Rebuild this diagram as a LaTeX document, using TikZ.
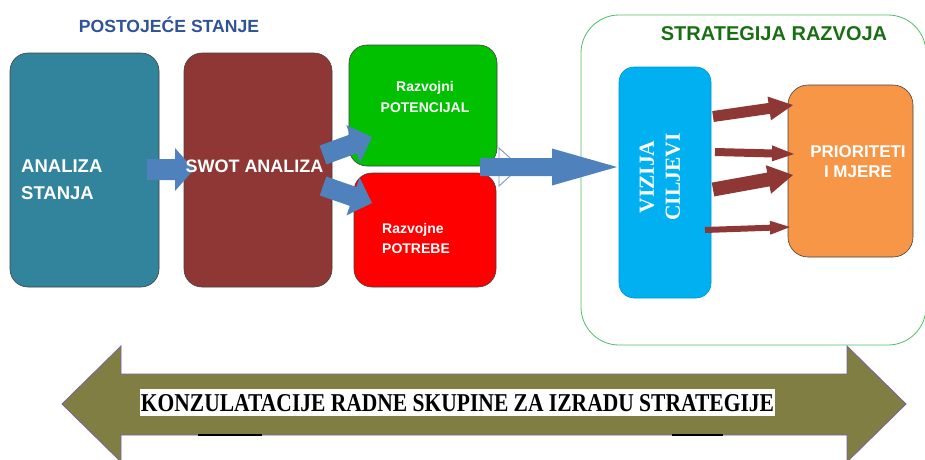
\documentclass[tikz,border=0pt]{standalone}
\usepackage{fontspec}
\setmainfont{Liberation Sans}
\newfontfamily\vizfont{Liberation Serif}
\usetikzlibrary{calc,positioning}

\definecolor{tealbox}{RGB}{49,132,155}
\definecolor{swotbox}{RGB}{143,55,52}
\definecolor{potgreen}{RGB}{0,192,0}
\definecolor{potred}{RGB}{255,0,0}
\definecolor{vizblue}{RGB}{0,176,240}
\definecolor{prioorange}{RGB}{247,150,70}
\definecolor{arrowblue}{RGB}{79,129,189}
\definecolor{ghostblue}{RGB}{120,150,205}
\definecolor{arrowbrown}{RGB}{142,55,52}
\definecolor{konzolive}{RGB}{128,126,66}
\definecolor{konzviolet}{RGB}{118,98,165}
\definecolor{framegreen}{RGB}{80,190,100}
\definecolor{titlegreen}{RGB}{25,110,20}
\definecolor{titleblue}{RGB}{47,84,150}

% block arrow: [fill] {start} {tip} {shaft half width} {head half width} {head length}
\newcommand{\blockarrow}[6][]{%
  \path (#2) coordinate (ba-s) (#3) coordinate (ba-e);
  \path ($(ba-e)!#6!(ba-s)$) coordinate (ba-h);
  \fill[#1] ($(ba-s)!#4!90:(ba-e)$) -- ($(ba-h)!#4!90:(ba-e)$) -- ($(ba-h)!#5!90:(ba-e)$)
    -- (ba-e) -- ($(ba-h)!#5!-90:(ba-e)$) -- ($(ba-h)!#4!-90:(ba-e)$) -- ($(ba-s)!#4!-90:(ba-e)$) -- cycle;}

\begin{document}
\begin{tikzpicture}[x=1pt,y=-1pt,
    box/.style={draw=black!75,line width=0.6pt,rounded corners=18pt,inner sep=0pt},
    boxlabel/.style={text=white,inner sep=0pt}]
		\useasboundingbox (0,0) rectangle (925,459);
		\clip (0,0) rectangle (925,459);
		
		% Titles
		\node[text=titleblue,font=\bfseries\fontsize{17.6}{20}\selectfont] (postojece) at (169,25) {POSTOJEĆE STANJE};
		\node[text=titlegreen,font=\bfseries\fontsize{20}{22}\selectfont] (strattitle) at (774,34) {STRATEGIJA RAZVOJA};
		
		% Boxes
		\node[box,fill=tealbox,minimum width=149pt,minimum height=234pt] (analiza) at (84.5,170) {};
		\node[box,fill=swotbox,minimum width=148pt,minimum height=234pt] (swot) at (258,170) {};
		\node[box,fill=potgreen,minimum width=148pt,minimum height=121pt] (potencijal) at (423,105.5) {};
		\node[box,fill=potred,minimum width=142pt,minimum height=114pt] (potrebe) at (425,230) {};
		\node[draw=framegreen,line width=0.8pt,rounded corners=38pt,minimum width=345pt,minimum height=330pt] (strategija) at (753.5,180) {};
		\node[box,draw=vizblue!85!black,fill=vizblue,rounded corners=15pt,minimum width=92pt,minimum height=231pt] (vizija) at (665,182.5) {};
		\node[box,fill=prioorange,rounded corners=20pt,minimum width=125pt,minimum height=172pt] (prioriteti) at (850.5,171) {};
		
		% Arrow ends
		\coordinate (swot-in) at (147,169.5);
		\coordinate (swot-tip) at (194,169.5);
		\coordinate (pot-out) at (323,155);
		\coordinate (pot-tip) at (372,137);
		\coordinate (potr-out) at (323,186);
		\coordinate (potr-tip) at (372,203);
		\coordinate (viz-in) at (480,167);
		\coordinate (viz-tip) at (617,167);
		
		% Blue arrows
		\blockarrow[arrowblue]{swot-in}{swot-tip}{10.5pt}{21.5pt}{19pt}
		\blockarrow[arrowblue]{pot-out}{pot-tip}{10pt}{20pt}{20pt}
		\blockarrow[arrowblue]{potr-out}{potr-tip}{10pt}{20pt}{20pt}
		\draw[ghostblue,fill=white,line width=0.9pt] (499,148) -- (520,167) -- (499,186) -- cycle;
		\blockarrow[arrowblue]{viz-in}{viz-tip}{9pt}{18.5pt}{65pt}
		
		% Brown arrows
		\coordinate (viz-o1) at (713,116.5);
		\coordinate (viz-o2) at (715,152);
		\coordinate (viz-o3) at (713,189.5);
		\coordinate (viz-o4) at (705,230);
		\coordinate (prio-i1) at (793,105);
		\coordinate (prio-i2) at (794,154);
		\coordinate (prio-i3) at (793,175);
		\coordinate (prio-i4) at (790,227);
		\blockarrow[arrowbrown]{viz-o1}{prio-i1}{5.5pt}{12pt}{24pt}
		\blockarrow[arrowbrown]{viz-o2}{prio-i2}{4pt}{8pt}{22pt}
		\blockarrow[arrowbrown]{viz-o3}{prio-i3}{7pt}{14.5pt}{25pt}
		\blockarrow[arrowbrown]{viz-o4}{prio-i4}{3pt}{7pt}{20pt}
		
		% Box texts
		\node[boxlabel,anchor=west,align=left,font=\bfseries\fontsize{18.5}{27}\selectfont] (analizatxt) at (21,179.5) {ANALIZA\\STANJA};
		\node[boxlabel,font=\bfseries\fontsize{18}{27}\selectfont] (swottxt) at (254.5,166) {SWOT ANALIZA};
		\node[boxlabel,align=center,font=\bfseries\fontsize{14}{21}\selectfont] (potencijaltxt) at (425,96.5) {Razvojni\\POTENCIJAL};
		\node[boxlabel,anchor=west,align=left,font=\bfseries\fontsize{14}{20}\selectfont] (potrebetxt) at (382,238) {Razvojne\\POTREBE};
		\node[boxlabel,rotate=90,align=center,font=\vizfont\bfseries\fontsize{21.5}{26}\selectfont] (vizijatxt) at (660,177) {VIZIJA\\CILJEVI};
		\node[boxlabel,align=center,font=\bfseries\fontsize{17}{20}\selectfont] (prioritetitxt) at (858,162) {PRIORITETI\\I MJERE};
		
		% Double arrow
		\draw[konzviolet,fill=konzolive,line width=0.8pt] (62,404) -- (121,346) -- (121,374) -- (847,374) -- (847,346) -- (906,404) -- (847,462) -- (847,435) -- (121,435) -- (121,462) -- cycle;
		\fill[white] (140,389) rectangle (775,416);
		\node[inner sep=0pt] (konzultacije) at (457.5,403.5) {\resizebox{633pt}{17pt}{\vizfont\bfseries KONZULATACIJE RADNE SKUPINE ZA IZRADU STRATEGIJE}};
		\draw[black,line width=1.5pt] (198,435) -- (262,435);
		\draw[black,line width=1.5pt] (672,435) -- (723,435);
		
\end{tikzpicture}
\end{document}
